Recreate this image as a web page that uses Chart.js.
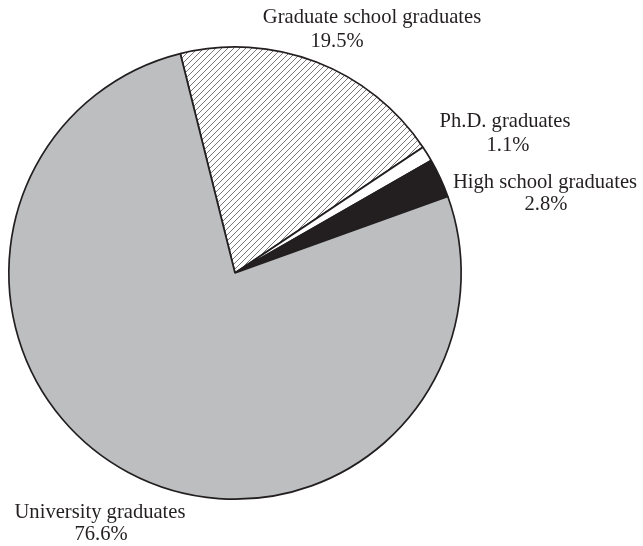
<!DOCTYPE html>
<html>
<head>
<meta charset="utf-8">
<script src="https://cdn.jsdelivr.net/npm/chart.js@4.4.1/dist/chart.umd.min.js"></script>
<style>
  html, body { margin: 0; padding: 0; background: #fff; }
  #wrap { width: 643px; height: 546px; position: relative; }
</style>
</head>
<body>
<div id="wrap"><canvas id="eduChart" width="643" height="546"></canvas></div>
<script>
// education level shares, clockwise from the top-left edge
const categories = ["Graduate school graduates", "Ph.D. graduates", "High school graduates", "University graduates"];
const shares = [19.5, 1.1, 2.8, 76.6];

const INK = "#231f20";

// diagonal hatch for the graduate school slice
function hatchPattern() {
    const c = document.createElement("canvas");
    c.width = 6; c.height = 6;
    const g = c.getContext("2d");
    g.fillStyle = "#fff";
    g.fillRect(0, 0, 6, 6);
    g.strokeStyle = "#555";
    g.lineWidth = 0.8;
    g.beginPath();
    g.moveTo(-1, 7); g.lineTo(7, -1);
    g.moveTo(-1, 1); g.lineTo(1, -1);
    g.moveTo(5, 7); g.lineTo(7, 5);
    g.stroke();
    return g.createPattern(c, "repeat");
}

// where each two-line label sits: [x1, y1, x2, y2] (centre x, baseline y)
const labelSpots = [
    [372, 23, 337, 47],
    [505, 127, 508, 151],
    [545, 188, 546, 210],
    [100, 518, 101, 540]
];

const labelPlugin = {
    id: "sliceLabels",
    afterDraw(chart) {
        const ctx = chart.ctx;
        ctx.save();
        ctx.fillStyle = INK;
        ctx.font = "20.6px 'Liberation Serif', 'DejaVu Serif', serif";
        ctx.textAlign = "center";
        ctx.textBaseline = "alphabetic";
        categories.forEach((name, i) => {
            const s = labelSpots[i];
            ctx.fillText(name, s[0], s[1]);
            ctx.fillText(shares[i].toFixed(1) + "%", s[2], s[3]);
        });
        ctx.restore();
    }
};

const ctx = document.getElementById("eduChart").getContext("2d");
new Chart(ctx, {
    type: "pie",
    data: {
        labels: categories,
        datasets: [{
            data: shares,
            backgroundColor: [hatchPattern(), "#ffffff", INK, "#bcbec0"],
            borderColor: INK,
            borderWidth: 1.7,
            hoverOffset: 0
        }]
    },
    options: {
        responsive: false,
        animation: false,
        rotation: -14,
        layout: { padding: { left: 8, right: 181, top: 46, bottom: 46 } },
        plugins: {
            legend: { display: false },
            tooltip: { enabled: false }
        }
    },
    plugins: [labelPlugin]
});
</script>
</body>
</html>
